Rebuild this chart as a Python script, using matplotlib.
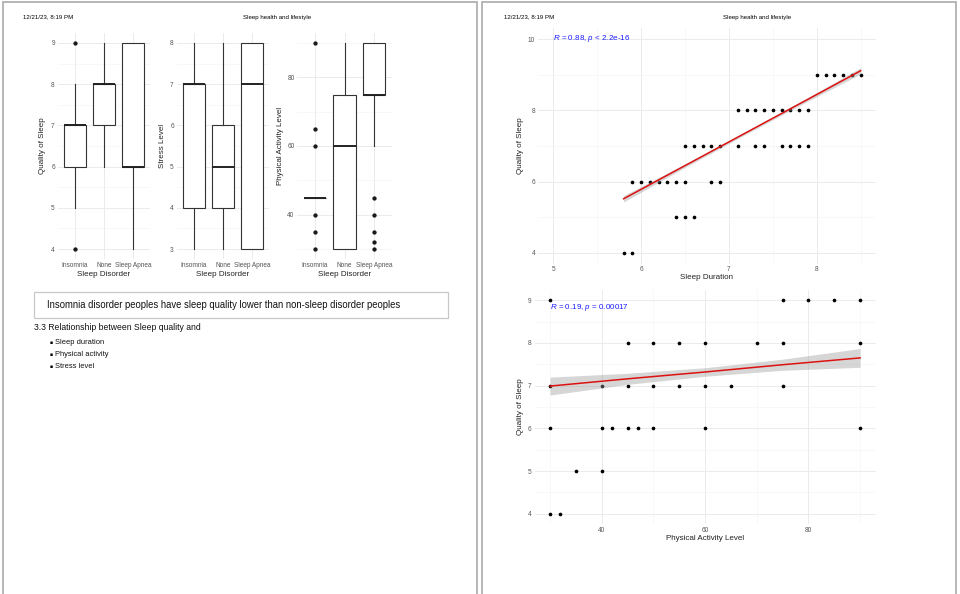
import matplotlib
matplotlib.use('Agg')
import matplotlib.pyplot as plt
from matplotlib.patches import Rectangle
from matplotlib.ticker import MultipleLocator, FixedLocator

plt.rcParams['font.family'] = ['Liberation Sans', 'DejaVu Sans']
plt.rcParams['mathtext.fontset'] = 'custom'
plt.rcParams['mathtext.it'] = 'Liberation Sans:italic'
plt.rcParams['mathtext.rm'] = 'Liberation Sans'

# ---- data ----
categories = ['Insomnia', 'None', 'Sleep Apnea']

# box stats: whislo, q1, median, q3, whishi
quality_stats = [[5, 6, 7, 7, 8], [6, 7, 8, 8, 9], [4, 6, 6, 9, 9]]
quality_out = [[4, 9], [], []]
stress_stats = [[3, 4, 7, 7, 8], [3, 4, 5, 6, 8], [3, 3, 7, 8, 8]]
stress_out = [[], [], []]
activity_stats = [[45, 45, 45, 45, 45], [30, 30, 60, 75, 90], [60, 75, 75, 90, 90]]
activity_out = [[30, 35, 40, 60, 65, 90], [], [30, 32, 35, 40, 45]]

# sleep duration vs quality
dur_x = [5.8, 5.9,
         6.4, 6.5, 6.6,
         5.9, 6.0, 6.1, 6.2, 6.3, 6.4, 6.5, 6.8, 6.9,
         6.5, 6.6, 6.7, 6.8, 6.9, 7.1, 7.3, 7.4, 7.6, 7.7, 7.8, 7.9,
         7.1, 7.2, 7.3, 7.4, 7.5, 7.6, 7.7, 7.8, 7.9,
         8.0, 8.1, 8.2, 8.3, 8.4, 8.5]
dur_q = [4, 4,
         5, 5, 5,
         6, 6, 6, 6, 6, 6, 6, 6, 6,
         7, 7, 7, 7, 7, 7, 7, 7, 7, 7, 7, 7,
         8, 8, 8, 8, 8, 8, 8, 8, 8,
         9, 9, 9, 9, 9, 9]
dur_fit_x = [5.8, 6.5, 7.2, 7.9, 8.5]
dur_fit_y = [5.52, 6.45, 7.38, 8.31, 9.11]
dur_fit_se = [0.09, 0.05, 0.04, 0.05, 0.09]
dur_label = r'$\it{R}$ = 0.88, $\it{p}$ < 2.2e-16'

# physical activity vs quality
act_x = [30, 32,
         35, 40,
         30, 40, 42, 45, 47, 50, 60, 90,
         30, 40, 45, 50, 55, 60, 65, 75,
         45, 50, 55, 60, 70, 75, 90,
         30, 75, 80, 85, 90]
act_q = [4, 4,
         5, 5,
         6, 6, 6, 6, 6, 6, 6, 6,
         7, 7, 7, 7, 7, 7, 7, 7,
         8, 8, 8, 8, 8, 8, 8,
         9, 9, 9, 9, 9]
act_fit_x = [30, 45, 60, 75, 90]
act_fit_y = [6.99, 7.16, 7.32, 7.49, 7.65]
act_fit_se = [0.21, 0.13, 0.10, 0.13, 0.22]
act_label = r'$\it{R}$ = 0.19, $\it{p}$ = 0.00017'

W, H = 960, 594
fig = plt.figure(figsize=(W / 100, H / 100), dpi=100)


def rect(x0, y0, x1, y1):
    return [x0 / W, 1 - y1 / H, (x1 - x0) / W, (y1 - y0) / H]


def ftext(x, y, s, **kw):
    fig.text(x / W, 1 - y / H, s, **kw)


def style_axes(ax, box, xlab, ylab, xlab_y, ylab_x):
    x0, y0, x1, y1 = box
    for sp in ax.spines.values():
        sp.set_visible(False)
    ax.set_axisbelow(True)
    ax.grid(which='major', color='#ebebeb', linewidth=0.7)
    ax.grid(which='minor', color='#f3f3f3', linewidth=0.4)
    ax.tick_params(which='both', length=0, pad=2, labelsize=4.7, labelcolor='#555555')
    ax.set_xlabel(xlab, fontsize=5.8, color='#222222')
    ax.set_ylabel(ylab, fontsize=5.8, color='#222222')
    ax.xaxis.set_label_coords(0.5, (y1 - xlab_y) / (y1 - y0))
    ax.xaxis.label.set_va('center')
    ax.yaxis.set_label_coords((ylab_x - x0) / (x1 - x0), 0.5)
    ax.yaxis.label.set_va('center')


def box_panel(box, stats, outliers, ylim, major, minor, ylab, ylab_x):
    ax = fig.add_axes(rect(*box))
    bstats = []
    for lab, s, out in zip(categories, stats, outliers):
        bstats.append(dict(label=lab, whislo=s[0], q1=s[1], med=s[2],
                           q3=s[3], whishi=s[4], fliers=out))
    ax.bxp(bstats, positions=[1, 2, 3], widths=0.75, showcaps=False,
           patch_artist=True,
           boxprops=dict(facecolor='white', edgecolor='#333333', linewidth=0.8),
           medianprops=dict(color='#222222', linewidth=1.4),
           whiskerprops=dict(color='#333333', linewidth=0.8),
           flierprops=dict(marker='o', markerfacecolor='#1a1a1a',
                           markeredgecolor='#1a1a1a', markersize=2.1))
    ax.set_xlim(0.4, 3.6)
    ax.set_ylim(*ylim)
    ax.yaxis.set_major_locator(MultipleLocator(major))
    ax.yaxis.set_minor_locator(MultipleLocator(minor))
    ax.xaxis.set_major_locator(FixedLocator([1, 2, 3]))
    ax.set_xticklabels(categories)
    style_axes(ax, box, 'Sleep Disorder', ylab, 274, ylab_x)
    return ax


def scatter_panel(box, x, y, fx, fy, se, xlim, ylim, xmaj, ymaj, xlab, ylab,
                  lab, lab_xy, xlab_y):
    ax = fig.add_axes(rect(*box))
    ax.scatter(x, y, s=7, color='black', zorder=3, linewidths=0)
    lo = [a - b for a, b in zip(fy, se)]
    hi = [a + b for a, b in zip(fy, se)]
    ax.fill_between(fx, lo, hi, color='#999999', alpha=0.4, linewidth=0, zorder=4)
    ax.plot(fx, fy, color='#dd1111', linewidth=1.1, zorder=5)
    ax.text(lab_xy[0], lab_xy[1], lab, color='#1a1aff', fontsize=5.8,
            ha='left', va='center')
    ax.set_xlim(*xlim)
    ax.set_ylim(*ylim)
    ax.xaxis.set_major_locator(MultipleLocator(xmaj))
    ax.xaxis.set_minor_locator(MultipleLocator(xmaj / 2))
    ax.yaxis.set_major_locator(MultipleLocator(ymaj))
    ax.yaxis.set_minor_locator(MultipleLocator(ymaj / 2))
    style_axes(ax, box, xlab, ylab, xlab_y, 520)
    return ax


# ---- page frames ----
for x0, x1 in [(2.5, 477.3), (482, 956.3)]:
    fig.patches.append(Rectangle((x0 / W, -0.05), (x1 - x0) / W, 1.05 - 1.5 / H,
                                 transform=fig.transFigure, fill=False,
                                 edgecolor='#aaaaaa', linewidth=1.2))

for left, mid in [(23, 277), (504, 757)]:
    ftext(left, 17, '12/21/23, 8:19 PM', fontsize=4.45, ha='left', va='center')
    ftext(mid, 17, 'Sleep health and lifestyle', fontsize=4.45, ha='center', va='center')

# ---- left page: box plots ----
box_panel((57.6, 32.7, 150.4, 259.3), quality_stats, quality_out,
          (3.75, 9.25), 1, 0.5, 'Quality of Sleep', 43)
box_panel((176.6, 32.7, 269.4, 259.3), stress_stats, stress_out,
          (2.75, 8.25), 1, 0.5, 'Stress Level', 162)
box_panel((297.3, 32.7, 391.7, 259.3), activity_stats, activity_out,
          (27, 93), 20, 10, 'Physical Activity Level', 281)

# ---- left page: text ----
fig.patches.append(Rectangle((34 / W, 1 - 318 / H), 414 / W, 26 / H,
                             transform=fig.transFigure, fill=False,
                             edgecolor='#c8c8c8', linewidth=0.9))
ftext(47, 305, 'Insomnia disorder peoples have sleep quality lower than non-sleep disorder peoples',
      fontsize=6.85, ha='left', va='center', color='#111111')
ftext(34, 328, '3.3 Relationship between Sleep quality and', fontsize=6.25,
      ha='left', va='center', color='#111111')
for yy, item in zip([343, 354.5, 366], ['Sleep duration', 'Physical activity', 'Stress level']):
    ftext(49.3, yy, '\u25aa', fontsize=3.4, ha='left', va='center',
          family=['DejaVu Sans'])
    ftext(55.3, yy, item, fontsize=5.45, ha='left', va='center', color='#111111')

# ---- right page: scatter plots ----
scatter_panel((538, 28.3, 876, 263.7), dur_x, dur_q, dur_fit_x, dur_fit_y,
              dur_fit_se, (4.825, 8.675), (3.7, 10.3), 1, 2,
              'Sleep Duration', 'Quality of Sleep', dur_label, (5, 10), 278)
scatter_panel((534.5, 289.6, 875.6, 524.4), act_x, act_q, act_fit_x, act_fit_y,
              act_fit_se, (27, 93), (3.75, 9.25), 20, 1,
              'Physical Activity Level', 'Quality of Sleep', act_label,
              (30, 8.83), 539)

fig.savefig('out.png', dpi=100)
